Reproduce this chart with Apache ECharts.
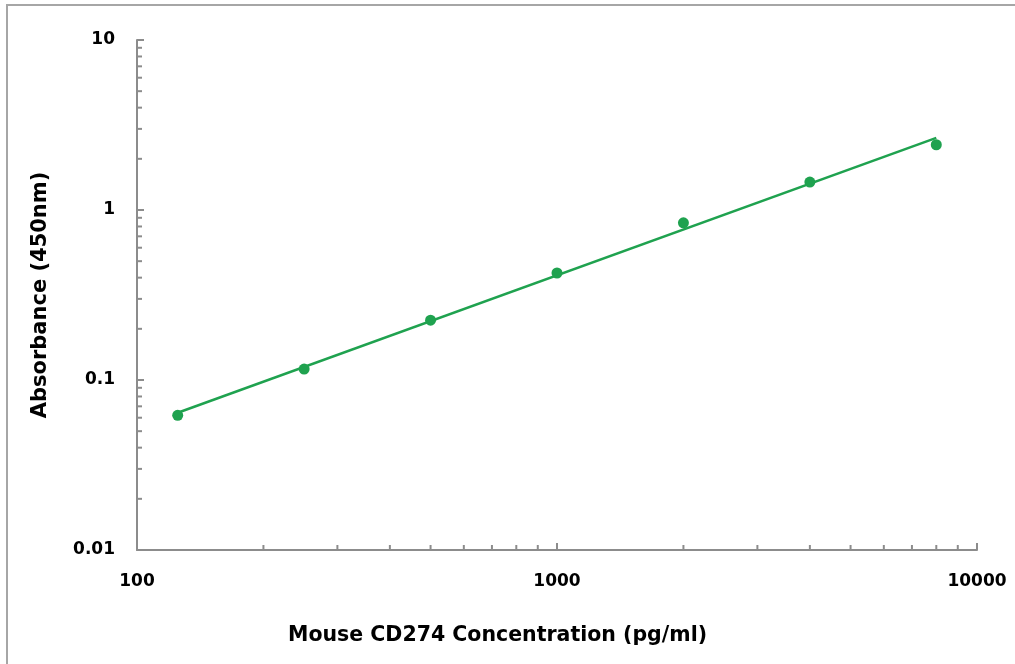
<!DOCTYPE html>
<html>
<head>
<meta charset="utf-8">
<script src="https://cdn.jsdelivr.net/npm/echarts@6/dist/echarts.min.js"></script>
<style>
html,body{margin:0;padding:0;background:#fff;}
#chart{width:1015px;height:664px;}
</style>
</head>
<body>
<div id="chart"></div>
<script>
// ---- data ----
const concentrations = [125, 250, 500, 1000, 2000, 4000, 8000];
const absorbance = [0.062, 0.116, 0.225, 0.426, 0.84, 1.46, 2.42];
const xTickLabels = [100, 1000, 10000];
const yTickLabels = [0.01, 0.1, 1, 10];
const xMinorTicks = [200, 300, 400, 500, 600, 700, 800, 900, 2000, 3000, 4000, 5000, 6000, 7000, 8000, 9000];
const yMinorTicks = [0.02, 0.03, 0.04, 0.05, 0.06, 0.07, 0.08, 0.09, 0.2, 0.3, 0.4, 0.5, 0.6, 0.7, 0.8, 0.9, 2, 3, 4, 5, 6, 7, 8, 9];
const xTitle = 'Mouse CD274 Concentration (pg/ml)';
const yTitle = 'Absorbance (450nm)';

// power-law least squares fit (log-log) from data
const lx = concentrations.map(v => Math.log10(v));
const ly = absorbance.map(v => Math.log10(v));
const n = lx.length;
const mx = lx.reduce((a, b) => a + b, 0) / n;
const my = ly.reduce((a, b) => a + b, 0) / n;
let sxy = 0, sxx = 0;
for (let i = 0; i < n; i++) { sxy += (lx[i] - mx) * (ly[i] - my); sxx += (lx[i] - mx) ** 2; }
const slope = sxy / sxx, icpt = my - slope * mx;
const fitX = [concentrations[0], concentrations[n - 1]];
const fitLine = fitX.map(x => [x, Math.pow(10, icpt + slope * Math.log10(x))]);

const GREEN = '#1fa24f';
const AXIS = '#8c8c8c';
const FONT = '"DejaVu Sans", Verdana, sans-serif';
const xMin = xTickLabels[0], xMax = xTickLabels[xTickLabels.length - 1];
const yMin = yTickLabels[0], yMax = yTickLabels[yTickLabels.length - 1];

const chart = echarts.init(document.getElementById('chart'), null, {renderer: 'canvas'});
const option = {
  backgroundColor: '#fff',
  animation: false,
  grid: {left: 137, right: 38, top: 40, bottom: 114, containLabel: false},
  xAxis: {
    type: 'log', logBase: 10, min: xMin, max: xMax,
    axisLine: {show: true, lineStyle: {color: AXIS, width: 2}},
    axisTick: {show: true, inside: true, length: 7, lineStyle: {color: AXIS, width: 2}},
    splitLine: {show: false},
    axisLabel: {color: '#000', fontFamily: FONT, fontWeight: 'bold', fontSize: 17, margin: 23,
      formatter: v => String(Math.round(v))}
  },
  yAxis: {
    type: 'log', logBase: 10, min: yMin, max: yMax,
    name: yTitle, nameLocation: 'middle', nameGap: 86, nameRotate: 90,
    nameTextStyle: {color: '#000', fontFamily: FONT, fontWeight: 'bold', fontSize: 21},
    axisLine: {show: true, lineStyle: {color: AXIS, width: 2}},
    axisTick: {show: true, inside: true, length: 7, lineStyle: {color: AXIS, width: 2}},
    splitLine: {show: false},
    axisLabel: {color: '#000', fontFamily: FONT, fontWeight: 'bold', fontSize: 17, margin: 22,
      formatter: v => String(parseFloat(v.toPrecision(3)))}
  },
  graphic: [
    {type: 'rect', shape: {x: 7, y: 5, width: 1020, height: 680}, style: {fill: 'none', stroke: '#a6a6a6', lineWidth: 2}, silent: true},
    {type: 'text', x: 288, y: 636, style: {text: xTitle, fill: '#000', font: 'bold 20.5px ' + FONT, verticalAlign: 'middle', align: 'left'}}
  ],
  series: [
    {type: 'custom', coordinateSystem: 'cartesian2d', clip: false, silent: true, z: 3,
      data: xMinorTicks.map(v => [v, yMin]),
      renderItem: (params, api) => {
        const p = api.coord([api.value(0), api.value(1)]);
        return {type: 'line', shape: {x1: p[0], y1: p[1], x2: p[0], y2: p[1] - 5}, style: {stroke: AXIS, lineWidth: 2}};
      }},
    {type: 'custom', coordinateSystem: 'cartesian2d', clip: false, silent: true, z: 3,
      data: yMinorTicks.map(v => [xMin, v]),
      renderItem: (params, api) => {
        const p = api.coord([api.value(0), api.value(1)]);
        return {type: 'line', shape: {x1: p[0], y1: p[1], x2: p[0] + 5, y2: p[1]}, style: {stroke: AXIS, lineWidth: 2}};
      }},
    {type: 'line', data: fitLine, showSymbol: false, symbol: 'none',
      lineStyle: {color: GREEN, width: 2.5}, z: 4},
    {type: 'scatter', data: concentrations.map((c, i) => [c, absorbance[i]]),
      symbol: 'circle', symbolSize: 11, itemStyle: {color: GREEN, opacity: 1}, z: 5}
  ]
};
chart.setOption(option);
</script>
</body>
</html>
